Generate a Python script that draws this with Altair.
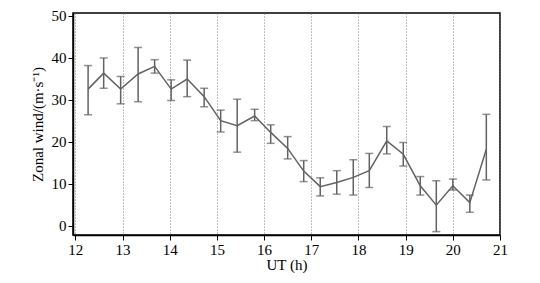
import altair as alt
import pandas as pd

ut = [12.27, 12.60, 12.96, 13.33, 13.68, 14.03, 14.37, 14.73, 15.08, 15.43, 15.80, 16.14, 16.50,
      16.84, 17.19, 17.54, 17.89, 18.23, 18.60, 18.95, 19.31, 19.65, 20.00, 20.36, 20.71]
wind = [32.5, 36.3, 32.5, 36.1, 37.9, 32.5, 34.9, 30.7, 25.0, 23.8, 26.1, 22.2, 18.4,
        13.0, 9.3, 10.3, 11.5, 13.1, 20.2, 17.0, 9.5, 4.9, 9.5, 5.5, 18.2]
upper = [38.1, 39.9, 35.5, 42.4, 39.5, 34.7, 39.4, 32.7, 27.5, 30.1, 27.7, 24.0, 21.2,
         15.5, 11.4, 13.1, 15.7, 17.2, 23.6, 19.8, 11.7, 10.7, 11.1, 7.3, 26.5]
lower = [26.4, 32.7, 29.0, 29.5, 36.3, 29.8, 30.7, 28.3, 22.3, 17.5, 25.0, 19.6, 15.9,
         10.5, 7.1, 7.5, 7.3, 9.1, 17.1, 14.2, 7.3, -1.4, 8.5, 3.2, 10.9]
x_ticks = [12 + 0.5 * i for i in range(19)]
y_ticks = [0, 10, 20, 30, 40, 50]

df = pd.DataFrame({"ut": ut, "wind": wind, "hi": upper, "lo": lower})

FONT = "'Liberation Serif', 'Times New Roman', serif"
COL = "#626262"

xs = alt.Scale(domain=[11.95, 21], nice=False, zero=False)
ys = alt.Scale(domain=[-2.2, 50.6], nice=False, zero=False)

xaxis = alt.Axis(values=x_ticks, labelExpr="datum.value % 1 == 0 ? datum.label : ''",
                 title="UT (h)", grid=True, gridDash=[1.2, 1.8], gridColor="#7a7a7a", gridWidth=0.8,
                 tickSize=5, tickColor="black", domainColor="black", domainWidth=1.5,
                 labelFont=FONT, labelFontSize=15, labelColor="black", labelPadding=2,
                 titleFont=FONT, titleFontSize=15, titleFontWeight="normal", titleColor="black",
                 titlePadding=0, labelFlush=False)
yaxis = alt.Axis(values=y_ticks, title="Zonal wind/(m·s⁻¹)", grid=False,
                 tickSize=5, tickColor="black", domainColor="black", domainWidth=1.5,
                 labelFont=FONT, labelFontSize=15, labelColor="black", labelPadding=2,
                 titleFont=FONT, titleFontSize=15, titleFontWeight="normal", titleColor="black",
                 titlePadding=6)

base = alt.Chart(df)
line = base.mark_line(color=COL, strokeWidth=1.5).encode(
    x=alt.X("ut:Q", scale=xs, axis=xaxis),
    y=alt.Y("wind:Q", scale=ys, axis=yaxis),
)
bars = base.mark_rule(color=COL, strokeWidth=1.5).encode(
    x=alt.X("ut:Q", scale=xs), y=alt.Y("lo:Q", scale=ys), y2="hi:Q")
cap_hi = base.mark_tick(color=COL, orient="horizontal", size=8, thickness=1.5).encode(
    x=alt.X("ut:Q", scale=xs), y=alt.Y("hi:Q", scale=ys))
cap_lo = base.mark_tick(color=COL, orient="horizontal", size=8, thickness=1.5).encode(
    x=alt.X("ut:Q", scale=xs), y=alt.Y("lo:Q", scale=ys))

chart = alt.layer(line, bars, cap_hi, cap_lo).properties(
    width=427, height=222,
    autosize=alt.AutoSizeParams(type="none"),
    padding={"left": 73, "top": 13, "right": 40, "bottom": 48},
    background="white",
).configure_view(stroke="black", strokeWidth=1.5)

chart.save("out.html", embed_options={"renderer": "svg", "actions": False})
